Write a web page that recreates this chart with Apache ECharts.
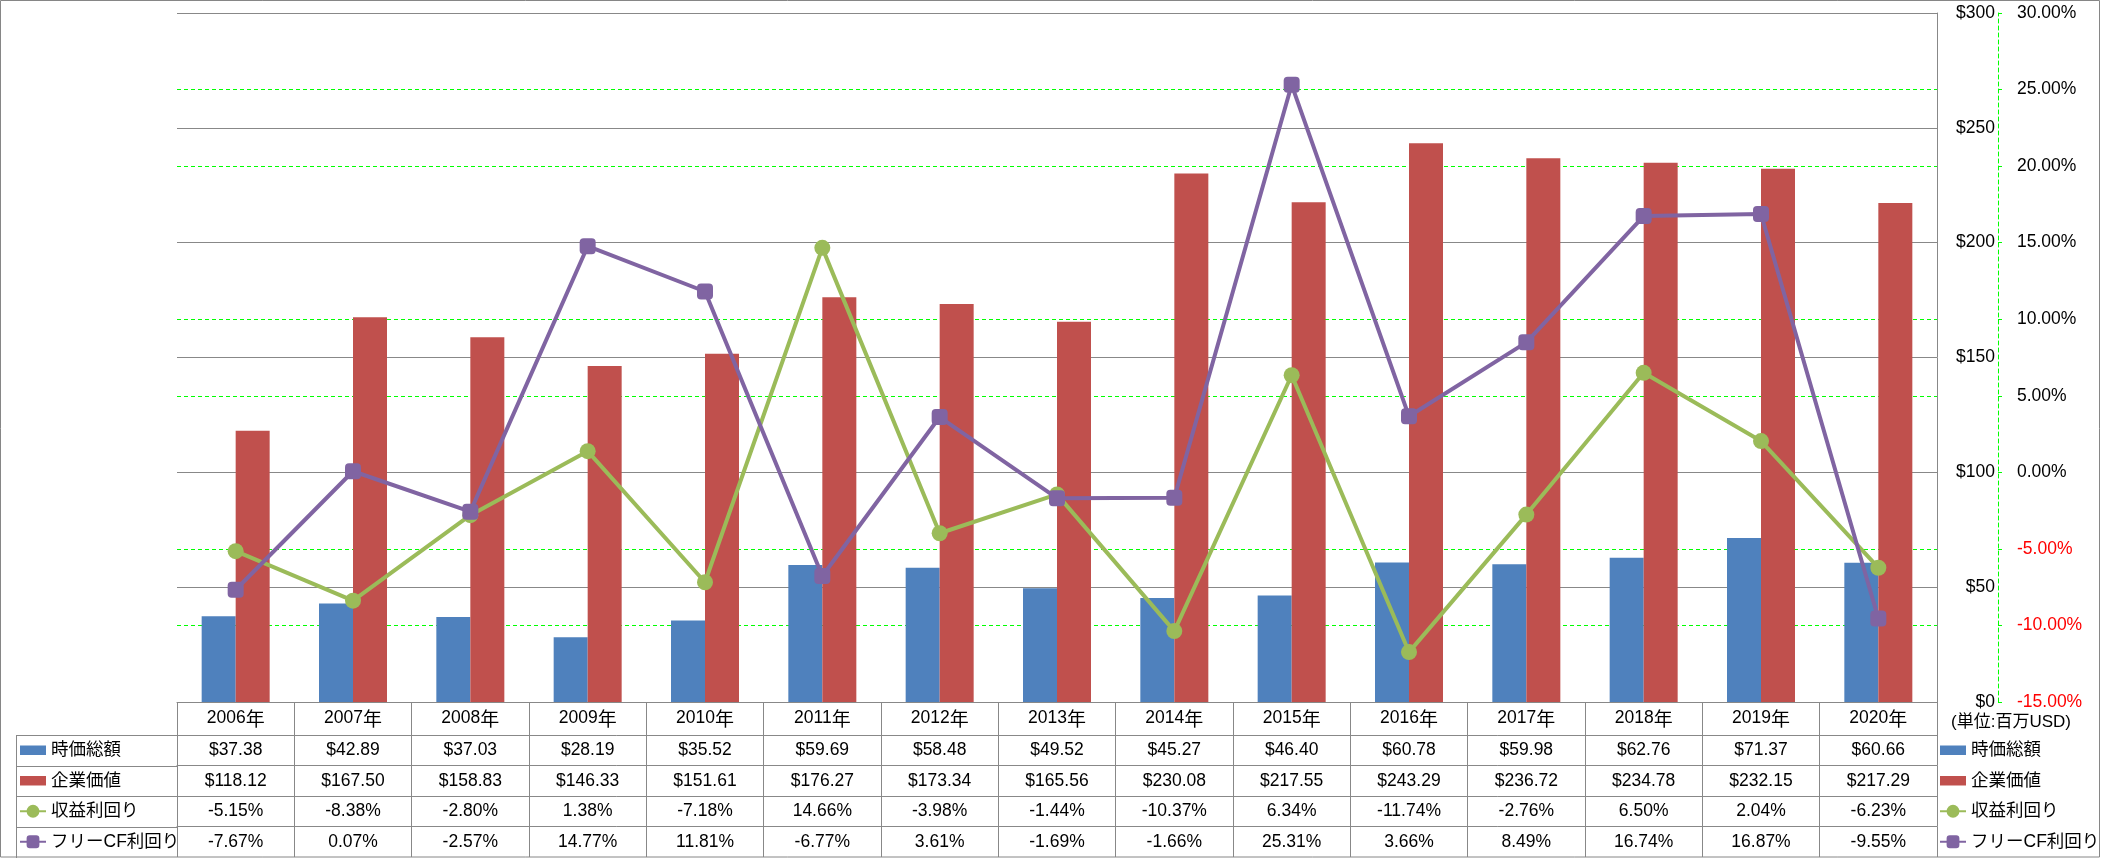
<!DOCTYPE html>
<html><head><meta charset="utf-8">
<script src="https://cdn.jsdelivr.net/npm/echarts@6/dist/echarts.min.js"></script>
<style>html,body{margin:0;padding:0;background:#fff}#c{width:2101px;height:858px}</style>
</head><body><div id="c"></div>
<script>
// ---- data ----
const categories = ['2006年','2007年','2008年','2009年','2010年','2011年','2012年','2013年','2014年','2015年','2016年','2017年','2018年','2019年','2020年'];
const seriesNames = ['時価総額','企業価値','収益利回り','フリーCF利回り'];
const marketCap = [37.38,42.89,37.03,28.19,35.52,59.69,58.48,49.52,45.27,46.40,60.78,59.98,62.76,71.37,60.66];
const enterpriseValue = [118.12,167.50,158.83,146.33,151.61,176.27,173.34,165.56,230.08,217.55,243.29,236.72,234.78,232.15,217.29];
const earningsYield = [-5.15,-8.38,-2.80,1.38,-7.18,14.66,-3.98,-1.44,-10.37,6.34,-11.74,-2.76,6.50,2.04,-6.23];
const fcfYield = [-7.67,0.07,-2.57,14.77,11.81,-6.77,3.61,-1.69,-1.66,25.31,3.66,8.49,16.74,16.87,-9.55];
const dollarAxis = {min: 0, max: 300, interval: 50};
const pctAxis = {min: -15, max: 30, interval: 5};
const unitLabel = '(単位:百万USD)';

// ---- layout / style ----
const W = 2101, H = 858;
const GL = 177, GR = 1937, GT = 13, GB = 702;
const HEADER_H = 33, ROW_H = 30.5;
const TBL_LEFT = 16;
const FN = "'Liberation Sans','Noto Sans CJK JP',sans-serif";
const FJ = "'Noto Sans CJK JP',sans-serif";
const NUM_SIZE = 17.5;
const GRAY = '#888888';
const C = {blue:'#4F81BD', red:'#C0504D', green:'#9BBB59', purple:'#8064A2'};
const BAR_ICON = 'path://M0,0H26V9.5H0Z';

const fmtD = v => '$' + v.toFixed(2);
const fmtP = v => v.toFixed(2) + '%';
const rows = [
  {data: marketCap, fmt: fmtD},
  {data: enterpriseValue, fmt: fmtD},
  {data: earningsYield, fmt: fmtP},
  {data: fcfYield, fmt: fmtP}
];

const xAxes = [{
  type: 'category', data: categories, gridIndex: 0, position: 'bottom', offset: 0,
  boundaryGap: true,
  axisLine: {show: true, onZero: false, lineStyle: {color: GRAY, width: 1}},
  axisTick: {show: true, interval: 0, length: HEADER_H, lineStyle: {color: GRAY}},
  axisLabel: {interval: 0, margin: 0, lineHeight: HEADER_H, fontSize: NUM_SIZE, fontFamily: FN, color: '#000',
    formatter: v => '{n|' + v.replace('年', '') + '}{k|年}',
    rich: {
      n: {fontSize: NUM_SIZE, fontFamily: FN, color: '#000', lineHeight: HEADER_H},
      k: {fontSize: 19, fontFamily: FJ, color: '#000', lineHeight: HEADER_H}
    }},
  splitLine: {show: false}
}];
rows.forEach((r, i) => {
  xAxes.push({
    type: 'category', data: categories, gridIndex: 0, position: 'bottom',
    offset: HEADER_H + ROW_H * i, boundaryGap: true,
    axisLine: {show: true, onZero: false, lineStyle: {color: GRAY, width: 1}},
    axisTick: {show: true, interval: 0, length: ROW_H, lineStyle: {color: GRAY}},
    axisLabel: {interval: 0, margin: 0, lineHeight: ROW_H, fontSize: NUM_SIZE, fontFamily: FN, color: '#000',
      formatter: (val, idx) => r.fmt(r.data[idx])},
    splitLine: {show: false}
  });
});

const legendBase = {
  orient: 'vertical', top: GB + HEADER_H, padding: 0, itemGap: 0,
  itemWidth: 26, itemHeight: 16, selectedMode: false,
  textStyle: {fontSize: 17.5, lineHeight: ROW_H, fontFamily: FN, color: '#000'},
  data: [
    {name: seriesNames[0], icon: BAR_ICON},
    {name: seriesNames[1], icon: BAR_ICON},
    {name: seriesNames[2]},
    {name: seriesNames[3]}
  ]
};

const graphics = [
  {type: 'rect', silent: true, z: 100, shape: {x: 0.5, y: 0.5, width: W - 2, height: H - 1.5},
    style: {fill: 'none', stroke: '#868686', lineWidth: 1}},
  {type: 'line', silent: true, shape: {x1: TBL_LEFT + 0.5, y1: GB + HEADER_H, x2: TBL_LEFT + 0.5, y2: H},
    style: {stroke: GRAY, lineWidth: 1}}
];
for (let i = 0; i < 4; i++) {
  const y = Math.round(GB + HEADER_H + ROW_H * i) + 0.5;
  graphics.push({type: 'line', silent: true, shape: {x1: TBL_LEFT, y1: y, x2: GL, y2: y},
    style: {stroke: GRAY, lineWidth: 1}});
}

const option = {
  animation: false,
  backgroundColor: '#fff',
  textStyle: {fontFamily: FN},
  title: {text: unitLabel, left: 1951, top: 714, padding: 0,
    textStyle: {fontSize: 17, fontWeight: 'normal', color: '#000', fontFamily: FN}},
  legend: [
    Object.assign({}, legendBase, {left: TBL_LEFT + 3}),
    Object.assign({}, legendBase, {left: GR + 2})
  ],
  grid: {left: GL, right: W - GR, top: GT, bottom: H - GB, containLabel: false},
  xAxis: xAxes,
  yAxis: [
    { // percent axis
      type: 'value', position: 'right', offset: 61,
      min: pctAxis.min, max: pctAxis.max, interval: pctAxis.interval,
      axisLine: {show: true, lineStyle: {color: '#00FF00', type: [4, 3], width: 1}},
      axisTick: {show: true, length: 4, lineStyle: {color: '#00FF00'}},
      axisLabel: {margin: 19, fontSize: NUM_SIZE, fontFamily: FN,
        formatter: v => Number(v).toFixed(2) + '%',
        color: v => Number(v) < 0 ? '#FF0000' : '#000000'},
      splitLine: {show: true, lineStyle: {color: '#00FF00', type: [4, 3], width: 1}}
    },
    { // dollar axis
      type: 'value', position: 'right', offset: 61,
      min: dollarAxis.min, max: dollarAxis.max, interval: dollarAxis.interval,
      axisLine: {show: false}, axisTick: {show: false},
      axisLabel: {inside: true, margin: 3, fontSize: NUM_SIZE, fontFamily: FN, color: '#000',
        formatter: v => '$' + v},
      splitLine: {show: true, lineStyle: {color: GRAY, width: 1}}
    },
    { // right border of plot
      type: 'value', position: 'right', offset: 0, min: 0, max: 1,
      axisLine: {show: true, onZero: false, lineStyle: {color: GRAY, width: 1}},
      axisTick: {show: false}, axisLabel: {show: false}, splitLine: {show: false}
    }
  ],
  series: [
    {name: seriesNames[0], type: 'bar', xAxisIndex: 0, yAxisIndex: 1, data: marketCap,
      barWidth: 34, barGap: '0%', itemStyle: {color: C.blue}},
    {name: seriesNames[1], type: 'bar', xAxisIndex: 0, yAxisIndex: 1, data: enterpriseValue,
      barWidth: 34, barGap: '0%', itemStyle: {color: C.red}},
    {name: seriesNames[2], type: 'line', xAxisIndex: 0, yAxisIndex: 0, data: earningsYield,
      symbol: 'circle', symbolSize: 16, lineStyle: {color: C.green, width: 4},
      itemStyle: {color: C.green}, z: 3},
    {name: seriesNames[3], type: 'line', xAxisIndex: 0, yAxisIndex: 0, data: fcfYield,
      symbol: 'roundRect', symbolSize: 16, lineStyle: {color: C.purple, width: 4},
      itemStyle: {color: C.purple}, z: 4}
  ],
  graphic: graphics
};

const chart = echarts.init(document.getElementById('c'), null, {renderer: 'canvas', width: W, height: H});
chart.setOption(option);
</script>
</body></html>
